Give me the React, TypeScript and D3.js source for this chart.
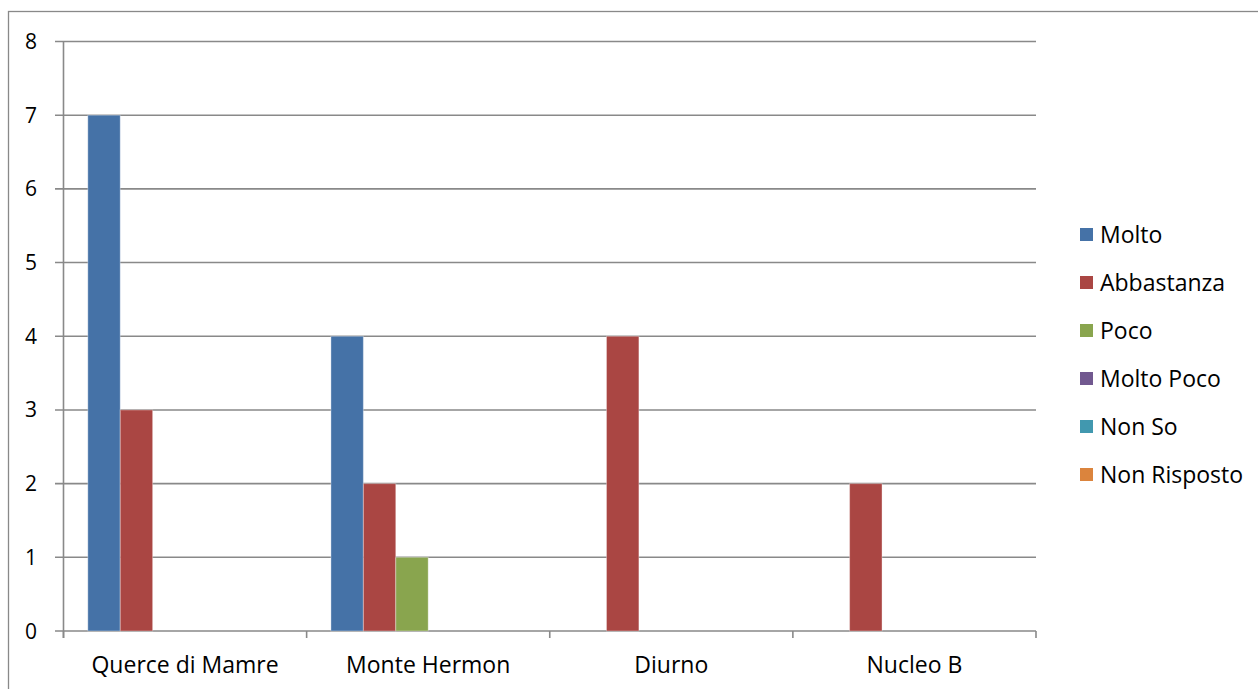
import React from "react";
import * as d3 from "d3";

const categories = ["Querce di Mamre", "Monte Hermon", "Diurno", "Nucleo B"];
const seriesNames = ["Molto", "Abbastanza", "Poco", "Molto Poco", "Non So", "Non Risposto"];
const molto = [7, 4, 0, 0];
const abbastanza = [3, 2, 4, 2];
const poco = [0, 1, 0, 0];
const moltoPoco = [0, 0, 0, 0];
const nonSo = [0, 0, 0, 0];
const nonRisposto = [0, 0, 0, 0];
const seriesValues = [molto, abbastanza, poco, moltoPoco, nonSo, nonRisposto];
const colors = ["#4572A7", "#AA4643", "#89A54E", "#71588F", "#4198AF", "#DB843D"];
const yTicks = [0, 1, 2, 3, 4, 5, 6, 7, 8];

const W = 1258, H = 689;
const left = 63.5, right = 1036, top = 41.5, bottom = 631;
const FONT = "'Open Sans', 'Noto Sans', sans-serif";
const GRID = "#898989";

export default function App() {
  const x0 = d3.scaleBand().domain(categories).range([left, right]).paddingInner(0).paddingOuter(0);
  const pad = x0.bandwidth() * 0.1;
  const x1 = d3.scaleBand().domain(seriesNames).range([pad, x0.bandwidth() - pad]).padding(0);
  const y = d3.scaleLinear().domain([0, 8]).range([bottom, top]);
  const boundaries = [...categories.map((c) => x0(c)!), right];

  return (
    <svg width={W} height={H} style={{ position: "absolute", left: 0, top: 0, background: "#fff" }} fontFamily={FONT}>
      <rect x={8.5} y={11.5} width={1400} height={800} fill="none" stroke={GRID} strokeWidth={1.3} />
      {yTicks.map((t) => (
        <g key={t}>
          <line x1={55} x2={right} y1={y(t)} y2={y(t)} stroke={GRID} strokeWidth={1.6} />
          <text x={37} y={y(t)} dy="0.36em" textAnchor="end" fontSize={21} fill="#000">{t}</text>
        </g>
      ))}
      <line x1={left} x2={left} y1={top} y2={bottom + 7} stroke={GRID} strokeWidth={1.6} />
      {boundaries.map((b, i) => (
        <line key={i} x1={b} x2={b} y1={bottom} y2={bottom + 7} stroke={GRID} strokeWidth={1.6} />
      ))}
      {categories.map((c, ci) => (
        <g key={c}>
          {seriesNames.map((s, si) => {
            const v = seriesValues[si][ci];
            if (!v) return null;
            return (
              <rect key={s} x={x0(c)! + x1(s)!} y={y(v)} width={x1.bandwidth()} height={bottom - y(v)}
                fill={colors[si]} stroke="#ffffff" strokeOpacity={0.35} strokeWidth={1} />
            );
          })}
          <text x={x0(c)! + x0.bandwidth() / 2} y={665} dy="0.36em" textAnchor="middle" fontSize={23} fill="#000">{c}</text>
        </g>
      ))}
      {seriesNames.map((s, i) => (
        <g key={s}>
          <rect x={1080} y={228 + i * 48} width={13} height={13} fill={colors[i]} />
          <text x={1100} y={234.5 + i * 48} dy="0.36em" fontSize={23} fill="#000">{s}</text>
        </g>
      ))}
    </svg>
  );
}
